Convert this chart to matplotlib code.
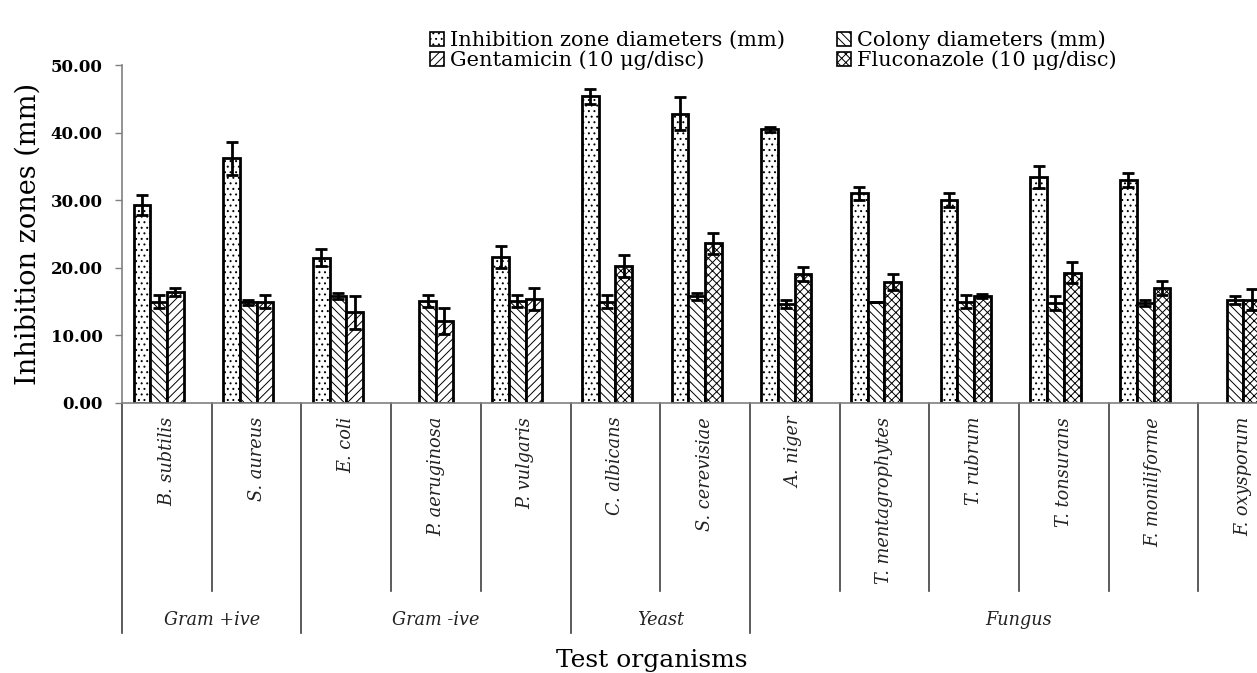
import numpy as np
import matplotlib
matplotlib.use('Agg')
import matplotlib.pyplot as plt
from matplotlib.patches import Patch
import matplotlib.transforms as mtransforms

plt.rcParams['font.family'] = ['DejaVu Serif']
plt.rcParams['hatch.linewidth'] = 0.7

nan = np.nan
# 데이터
categories = ['B. subtilis', 'S. aureus', 'E. coli', 'P. aeruginosa', 'P. vulgaris',
              'C. albicans', 'S. cerevisiae', 'A. niger', 'T. mentagrophytes',
              'T. rubrum', 'T. tonsurans', 'F. moniliforme', 'F. oxysporum']
groups = ['Gram +ive', 'Gram -ive', 'Yeast', 'Fungus']
group_sizes = [2, 3, 2, 6]

inhibition     = [29.3, 36.2, 21.5, nan, 21.6, 45.4, 42.8, 40.5, 31.0, 30.0, 33.4, 33.0, nan]
inhibition_err = [1.5, 2.4, 1.3, nan, 1.6, 1.1, 2.4, 0.4, 1.0, 1.0, 1.6, 1.0, nan]
colony         = [15.0, 14.9, 15.8, 15.1, 15.1, 15.0, 15.8, 14.6, 15.0, 15.0, 14.8, 14.8, 15.3]
colony_err     = [1.0, 0.4, 0.4, 0.9, 0.9, 1.0, 0.5, 0.6, 0.0, 1.0, 1.0, 0.4, 0.6]
gentamicin     = [16.4, 15.0, 13.4, 12.1, 15.4, nan, nan, nan, nan, nan, nan, nan, nan]
gentamicin_err = [0.6, 1.0, 2.4, 1.9, 1.6, nan, nan, nan, nan, nan, nan, nan, nan]
fluconazole    = [nan, nan, nan, nan, nan, 20.3, 23.6, 19.1, 17.9, 15.8, 19.3, 17.0, 15.3]
fluconazole_err = [nan, nan, nan, nan, nan, 1.6, 1.6, 1.0, 1.2, 0.3, 1.6, 1.0, 1.6]

labels = ['Inhibition zone diameters (mm)', 'Colony diameters (mm)',
          'Gentamicin (10 μg/disc)', 'Fluconazole (10 μg/disc)']
hatches = ['...', '\\\\\\\\', '////', 'xxxx']

fig = plt.figure(figsize=(12.57, 6.73), dpi=100)
ax = fig.add_axes([0.0971, 0.4012, 0.9276, 0.5022])

x = np.arange(len(categories))
w = 0.186
# 막대 위치 : 세번째 칸은 Gentamicin(세균) / Fluconazole(효모, 곰팡이) 공유
series = [(inhibition, inhibition_err, -1.5), (colony, colony_err, -0.5),
          (gentamicin, gentamicin_err, 0.5), (fluconazole, fluconazole_err, 0.5)]
for (vals, errs, off), h in zip(series, hatches):
    vals = np.array(vals, dtype=float)
    ok = ~np.isnan(vals)
    ax.bar(x[ok] + off * w, vals[ok], width=w, facecolor='white', edgecolor='black',
           hatch=h, linewidth=2.0, zorder=2)
    ax.errorbar(x[ok] + off * w, vals[ok], yerr=np.array(errs, dtype=float)[ok], fmt='none',
                ecolor='black', elinewidth=2, capsize=4.5, capthick=2, zorder=3)

ax.set_xlim(-0.5, len(categories) - 0.5)
ax.set_ylim(0, 50)
ax.set_yticks(np.arange(0, 51, 10))
ax.set_yticklabels(['%.2f' % v for v in np.arange(0, 51, 10)], fontweight='bold', fontsize=12)
ax.tick_params(axis='y', direction='out', length=5, pad=9, color='#808080', width=1)
ax.set_xticks([])
for s in ['top', 'right']:
    ax.spines[s].set_visible(False)
for s in ['left', 'bottom']:
    ax.spines[s].set_color('#808080')
    ax.spines[s].set_linewidth(1.2)

# 다단 x축 라벨
trans = mtransforms.blended_transform_factory(ax.transData, ax.transAxes)
bounds = np.cumsum([0] + group_sizes) - 0.5
for i in range(len(categories) + 1):
    xb = i - 0.5
    low = -0.680 if xb in bounds else -0.556
    ax.plot([xb, xb], [0, low], transform=trans, color='#404040', lw=1.2, clip_on=False)
for i, c in enumerate(categories):
    ax.text(i, -0.041, c, transform=trans, rotation=90, ha='center', va='top',
            fontsize=12.8, style='italic', color='#222222')
for g, a, b in zip(groups, bounds[:-1], bounds[1:]):
    ax.text((a + b) / 2, -0.642, g, transform=trans, ha='center', va='center',
            fontsize=12.7, style='italic', color='#222222')

fig.text(28 / 1257, 0.652, 'Inhibition zones (mm)', rotation=90, ha='center', va='center',
         fontsize=19.5)
fig.text(652 / 1257, 1 - 660 / 673, 'Test organisms', ha='center', va='center', fontsize=18)

handles = [Patch(facecolor='white', edgecolor='black', hatch=h, linewidth=1.2) for h in hatches]
order = [0, 2, 1, 3]
fig.legend([handles[i] for i in order], [labels[i] for i in order], ncol=2,
           loc='upper left', bbox_to_anchor=(0.334, 0.97), frameon=False, fontsize=15,
           handlelength=0.65, handleheight=0.65, handletextpad=0.3, columnspacing=2.5,
           labelspacing=0.0, borderpad=0.0)

plt.savefig('out.png', dpi=100)
